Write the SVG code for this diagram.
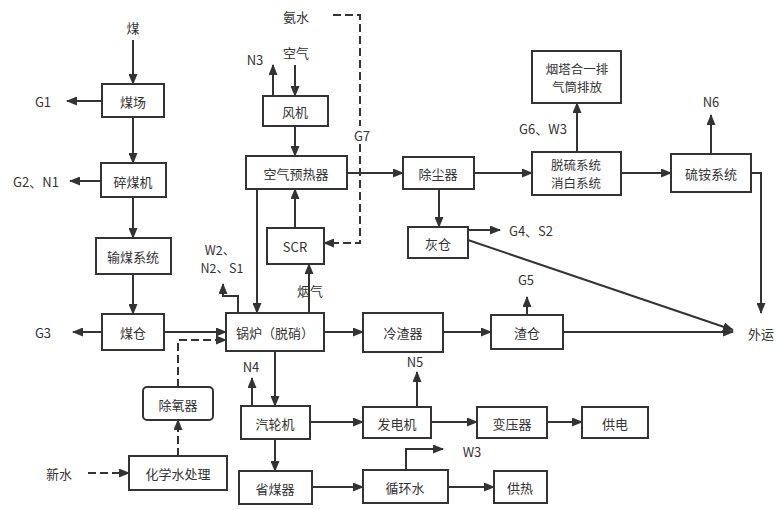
<svg xmlns="http://www.w3.org/2000/svg" width="780" height="510" viewBox="0 0 780 510">
<defs>
<marker id="ah" markerUnits="userSpaceOnUse" markerWidth="11" markerHeight="9" refX="10" refY="4.5" orient="auto">
<path d="M0,0 L11,4.5 L0,9 z" fill="#333"/>
</marker>
<style>
.b{fill:#fff;stroke:#333;stroke-width:2}
.l{fill:none;stroke:#333;stroke-width:2;marker-end:url(#ah)}
.d{stroke-dasharray:8 4}
text{font-family:"Noto Sans CJK SC","Liberation Sans",sans-serif;font-size:13px;fill:#333;text-anchor:middle;dominant-baseline:central}
.s{font-size:12.5px}
</style>
</defs>
<rect width="780" height="510" fill="#fff"/>
<g id="connectors">
<path class="l" d="M133,40 V84"/>
<path class="l" d="M102,101 H67"/>
<path class="l" d="M133,117 V163"/>
<path class="l" d="M101,181 H70"/>
<path class="l" d="M133,197 V238"/>
<path class="l" d="M133,274 V314"/>
<path class="l" d="M102,332 H73"/>
<path class="l" d="M164,332 H226"/>
<path class="l d" d="M178,387 V340 H226"/>
<path class="l d" d="M178,456 V420"/>
<path class="l d" d="M88,473 H129"/>
<path class="l" d="M273,96 V65"/>
<path class="l" d="M295,65 V96"/>
<path class="l" d="M295,126 V156"/>
<path class="l d" d="M333,15 H360 V243 H324"/>
<path class="l" d="M295,228 V189"/>
<path class="l" d="M257,189 V313"/>
<path class="l" d="M238,313 V296 H223 V284"/>
<path class="l" d="M309,313 V264"/>
<path class="l" d="M347,173 H403"/>
<path class="l" d="M474,173 H532"/>
<path class="l" d="M621,173 H671"/>
<path class="l" d="M577,152 V103"/>
<path class="l" d="M711,154 V115"/>
<path class="l" d="M751,173 H761 V313"/>
<path class="l" d="M439,189 V227"/>
<path class="l" d="M468,230 H500"/>
<path class="l" d="M468,240 L733,330"/>
<path class="l" d="M324,332 H363"/>
<path class="l" d="M443,332 H491"/>
<path class="l" d="M527,315 V297"/>
<path class="l" d="M563,332 H733"/>
<path class="l" d="M275,351 V406"/>
<path class="l" d="M252,406 V378"/>
<path class="l" d="M275,439 V471"/>
<path class="l" d="M310,422 H363"/>
<path class="l" d="M312,487 H363"/>
<path class="l" d="M417,407 V372"/>
<path class="l" d="M431,422 H477"/>
<path class="l" d="M547,422 H582"/>
<path class="l" d="M406,470 V449 H443"/>
<path class="l" d="M448,487 H494"/>
</g>
<g id="labels">
<text x="133" y="27">煤</text>
<text x="43" y="101">G1</text>
<text x="36" y="181">G2、N1</text>
<text x="43" y="332">G3</text>
<text x="59" y="473">新水</text>
<text x="296" y="16">氨水</text>
<text x="255" y="59">N3</text>
<text x="296" y="52">空气</text>
<rect x="353" y="126" width="18" height="18" fill="#fff"/>
<text x="362" y="135">G7</text>
<text class="s" x="220" y="249">W2、</text>
<text class="s" x="222" y="267">N2、S1</text>
<text x="310" y="290">烟气</text>
<text x="251" y="366">N4</text>
<text x="543" y="128">G6、W3</text>
<text x="711" y="101">N6</text>
<text x="531" y="230">G4、S2</text>
<text x="526" y="279">G5</text>
<text x="761" y="333">外运</text>
<text x="415" y="361">N5</text>
<text x="472" y="451">W3</text>
</g>
<g id="n-meichang"><rect class="b" x="102" y="84" width="62" height="33"/><text x="133" y="101">煤场</text></g>
<g id="n-suimeiji"><rect class="b" x="101" y="163" width="65" height="34"/><text x="133" y="181">碎煤机</text></g>
<g id="n-shumei"><rect class="b" x="96" y="238" width="75" height="36"/><text x="133" y="256">输煤系统</text></g>
<g id="n-meicang"><rect class="b" x="102" y="314" width="62" height="36"/><text x="133" y="332">煤仓</text></g>
<g id="n-chuyangqi"><rect class="b" x="143" y="387" width="70" height="33" rx="4"/><text x="178" y="404">除氧器</text></g>
<g id="n-huaxueshui"><rect class="b" x="129" y="456" width="98" height="34"/><text x="178" y="473">化学水处理</text></g>
<g id="n-fengji"><rect class="b" x="263" y="96" width="65" height="30"/><text x="295" y="111">风机</text></g>
<g id="n-yure"><rect class="b" x="246" y="156" width="101" height="33"/><text x="296" y="173">空气预热器</text></g>
<g id="n-scr"><rect class="b" x="267" y="228" width="57" height="36"/><text x="295" y="246">SCR</text></g>
<g id="n-guolu"><rect class="b" x="226" y="313" width="98" height="38"/><text x="275" y="332">锅炉（脱硝）</text></g>
<g id="n-qilunji"><rect class="b" x="241" y="406" width="69" height="33"/><text x="275" y="423">汽轮机</text></g>
<g id="n-shengmeiqi"><rect class="b" x="239" y="471" width="73" height="33"/><text x="275" y="488">省煤器</text></g>
<g id="n-chuchenqi"><rect class="b" x="403" y="157" width="71" height="32"/><text x="438" y="173">除尘器</text></g>
<g id="n-huicang"><rect class="b" x="408" y="227" width="60" height="31"/><text x="438" y="243">灰仓</text></g>
<g id="n-tuoliu"><rect class="b" x="532" y="152" width="89" height="43"/><text class="s" x="576" y="164">脱硫系统</text><text class="s" x="576" y="182">消白系统</text></g>
<g id="n-yanta"><rect class="b" x="532" y="51" width="89" height="52"/><text class="s" x="577" y="68">烟塔合一排</text><text class="s" x="577" y="86">气筒排放</text></g>
<g id="n-liuan"><rect class="b" x="671" y="154" width="80" height="38"/><text x="711" y="173">硫铵系统</text></g>
<g id="n-lengzhaqi"><rect class="b" x="363" y="313" width="80" height="39"/><text x="403" y="332">冷渣器</text></g>
<g id="n-zhacang"><rect class="b" x="491" y="315" width="72" height="34"/><text x="527" y="332">渣仓</text></g>
<g id="n-fadianji"><rect class="b" x="363" y="407" width="68" height="31"/><text x="397" y="423">发电机</text></g>
<g id="n-bianyaqi"><rect class="b" x="477" y="407" width="70" height="31"/><text x="512" y="423">变压器</text></g>
<g id="n-gongdian"><rect class="b" x="582" y="407" width="66" height="31"/><text x="615" y="423">供电</text></g>
<g id="n-xunhuanshui"><rect class="b" x="363" y="470" width="85" height="33"/><text x="405" y="487">循环水</text></g>
<g id="n-gongre"><rect class="b" x="494" y="471" width="53" height="32"/><text x="520" y="487">供热</text></g>
</svg>
